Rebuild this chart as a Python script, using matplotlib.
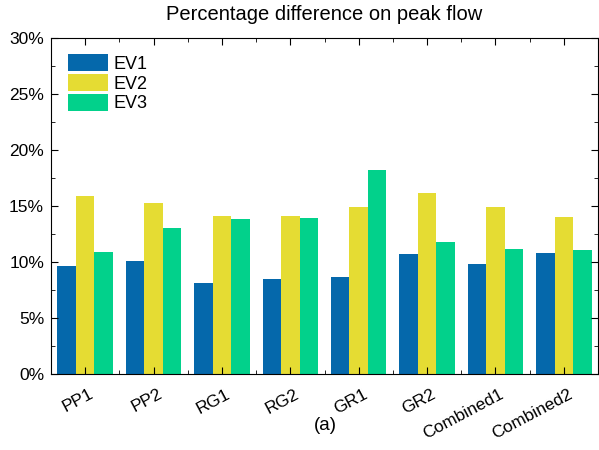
import numpy as np
import matplotlib
matplotlib.use('Agg')
import matplotlib.pyplot as plt
import matplotlib.transforms as mtransforms
from matplotlib.ticker import MultipleLocator, PercentFormatter

plt.rcParams['font.family'] = ['Liberation Sans', 'DejaVu Sans']

categories = ['PP1', 'PP2', 'RG1', 'RG2', 'GR1', 'GR2', 'Combined1', 'Combined2']
ev1 = [9.6, 10.1, 8.1, 8.5, 8.7, 10.7, 9.8, 10.8]
ev2 = [15.9, 15.3, 14.1, 14.1, 14.9, 16.2, 14.9, 14.0]
ev3 = [10.9, 13.0, 13.8, 13.9, 18.2, 11.8, 11.2, 11.1]
series = ['EV1', 'EV2', 'EV3']
colors = ['#0568AB', '#E5DC33', '#02D18B']

fig = plt.figure(figsize=(5.99, 4.5), dpi=100)
ax = fig.add_axes([51 / 599, 76 / 450, 547 / 599, 336 / 450])

x = np.arange(len(categories))
w = 0.27
for i, (vals, c, name) in enumerate(zip([ev1, ev2, ev3], colors, series)):
    ax.bar(x + (i - 1) * w, vals, width=w, color=c, label=name)

ax.set_xlim(-0.5, len(categories) - 0.5)
ax.set_ylim(0, 30)
ax.yaxis.set_major_locator(MultipleLocator(5))
ax.yaxis.set_minor_locator(MultipleLocator(2.5))
ax.yaxis.set_major_formatter(PercentFormatter(decimals=0))
ax.set_xticks(x)
ax.set_xticks(np.arange(len(categories) + 1) - 0.5, minor=True)
ax.set_xticklabels(categories, rotation=28, ha='right', rotation_mode='anchor')
ax.tick_params(which='both', direction='in', top=True, right=True, labelsize=12.5)
ax.tick_params(which='major', length=5)
ax.tick_params(which='minor', length=3)
ax.tick_params(axis='x', pad=9)
ax.tick_params(axis='y', pad=5)

# nudge the rotated labels a little to the right
shift = mtransforms.ScaledTranslation(4 / 100, 0, fig.dpi_scale_trans)
for lbl in ax.get_xticklabels():
    lbl.set_transform(lbl.get_transform() + shift)

ax.set_title('Percentage difference on peak flow', fontsize=14.5, pad=13)
ax.legend(loc='upper left', frameon=False, fontsize=13, handlelength=2.2,
          handleheight=1.1, labelspacing=0.05, handletextpad=0.3,
          borderaxespad=0.4, bbox_to_anchor=(0.005, 0.995))
fig.text(325 / 599, 1 - 425 / 450, '(a)', fontsize=13.5, ha='center', va='center')

fig.savefig('out.png', dpi=100)
